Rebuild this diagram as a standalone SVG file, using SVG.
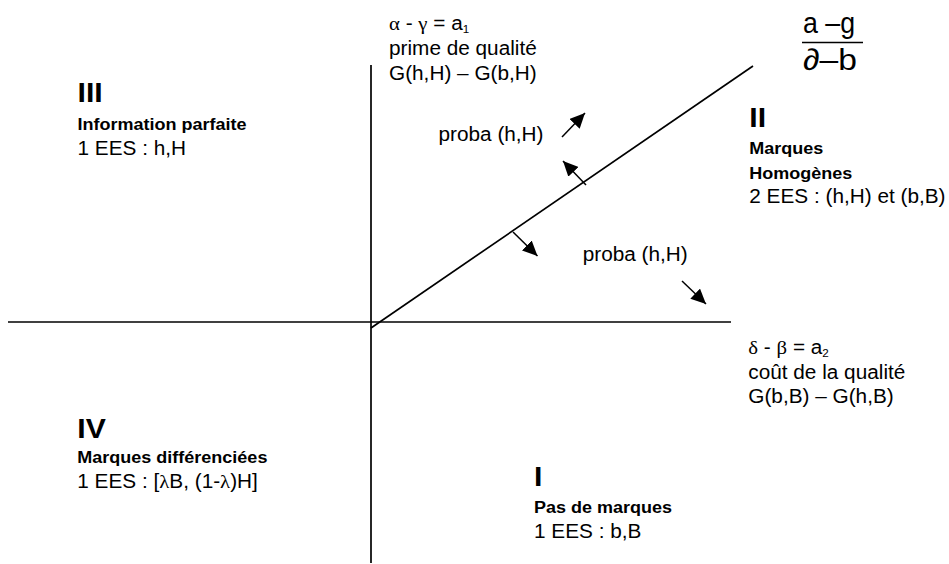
<svg xmlns="http://www.w3.org/2000/svg" width="949" height="564" viewBox="0 0 949 564">
<style>
text{font-family:"Liberation Sans",Arial,sans-serif;fill:#000}
.r{font-size:19.6px}
.b{font-size:17px;font-weight:bold}
.t{font-size:28.5px;font-weight:bold}
.g{font-family:"Liberation Serif","Times New Roman",serif}
.ax{stroke:#000;stroke-width:1.7;fill:none}
.ar{stroke:#000;stroke-width:1.5;fill:none;marker-end:url(#ah)}
</style>
<defs>
<marker id="ah" markerUnits="userSpaceOnUse" markerWidth="16" markerHeight="14" refX="15" refY="7" orient="auto">
<path d="M0,0 L15,7 L0,14 z" fill="#000"/>
</marker>
</defs>
<rect width="949" height="564" fill="#fff"/>
<g id="connectors">
<line class="ax" x1="371" y1="65" x2="371" y2="563"/>
<line class="ax" x1="8" y1="322" x2="731" y2="322"/>
<line class="ax" x1="371" y1="328" x2="753" y2="66"/>
<line class="ar" x1="562" y1="137" x2="585" y2="113"/>
<line class="ar" x1="586" y1="185" x2="563" y2="161"/>
<line class="ar" x1="513" y1="232" x2="537.5" y2="256"/>
<line class="ar" x1="682" y1="281" x2="706" y2="304"/>
</g>
<g id="axis-y-label" transform="translate(389,0) scale(1.06,1)">
<text class="r" x="0" y="30.5"><tspan class="g">α</tspan> - <tspan class="g">γ</tspan> = a<tspan font-size="11" dy="3">1</tspan></text>
<text class="r" x="0" y="55">prime de qualité</text>
<text class="r" x="0" y="80">G(h,H) – G(b,H)</text>
</g>
<g id="fraction">
<text x="803" y="33" font-size="30" textLength="52" lengthAdjust="spacingAndGlyphs">a –g</text>
<line x1="802" y1="42.5" x2="863" y2="42.5" stroke="#000" stroke-width="1.5"/>
<text x="803" y="70" font-size="30" textLength="54" lengthAdjust="spacingAndGlyphs">∂–b</text>
</g>
<g id="proba1" transform="translate(438.5,0) scale(1.06,1)">
<text class="r" x="0" y="141.5">proba (h,H)</text>
</g>
<g id="proba2" transform="translate(582.7,0) scale(1.06,1)">
<text class="r" x="0" y="261.5">proba (h,H)</text>
</g>
<g id="q3" transform="translate(77.5,0) scale(1.06,1)">
<text class="t" x="0" y="101.7">III</text>
<text class="b" x="0" y="130">Information parfaite</text>
<text class="r" x="0" y="155">1 EES : h,H</text>
</g>
<g id="q2" transform="translate(749.3,0) scale(1.06,1)">
<text class="t" x="0" y="127">II</text>
<text class="b" x="0" y="154.5">Marques</text>
<text class="b" x="0" y="179">Homogènes</text>
<text class="r" x="0" y="203.5">2 EES : (h,H) et (b,B)</text>
</g>
<g id="axis-x-label" transform="translate(748.3,0) scale(1.06,1)">
<text class="r" x="0" y="354.3"><tspan class="g">δ</tspan> - <tspan class="g">β</tspan> = a<tspan font-size="11" dy="3">2</tspan></text>
<text class="r" x="0" y="379">coût de la qualité</text>
<text class="r" x="0" y="403.5">G(b,B) – G(h,B)</text>
</g>
<g id="q4" transform="translate(77.3,0) scale(1.06,1)">
<text class="t" x="0" y="438.5">IV</text>
<text class="b" x="0" y="463">Marques différenciées</text>
<text class="r" x="0" y="488">1 EES : [<tspan class="g">λ</tspan>B, (1-<tspan class="g">λ</tspan>)H]</text>
</g>
<g id="q1" transform="translate(534,0) scale(1.06,1)">
<text class="t" x="0" y="486">I</text>
<text class="b" x="0" y="513">Pas de marques</text>
<text class="r" x="0" y="538.3">1 EES : b,B</text>
</g>
</svg>
